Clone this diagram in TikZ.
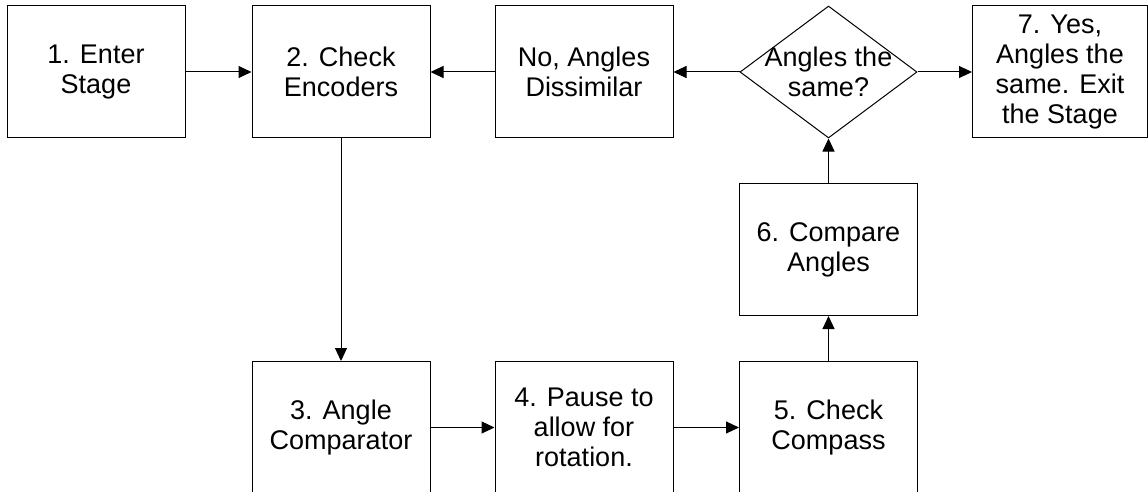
\documentclass[tikz,border=0pt]{standalone}
\usepackage{fontspec}
\setmainfont{Liberation Sans}
\usetikzlibrary{shapes.geometric,arrows.meta}
\begin{document}
\begin{tikzpicture}[x=1pt,y=-1pt,
  every node/.style={font=\fontsize{27}{30}\selectfont, align=center, inner sep=0pt},
  box/.style={draw, line width=1pt, minimum width=178pt, minimum height=132pt},
  dec/.style={draw, diamond, line width=1pt, minimum width=177pt, minimum height=132pt},
  arr/.style={line width=1pt, -{Triangle[length=13pt,width=12pt]}}]
\useasboundingbox (0,0) rectangle (1148,492);
\node[box] (n1) at (96,72) {1. Enter\\Stage};
\node[box] (n2) at (341,72) {2. Check\\Encoders};
\node[box] (no) at (584,72) {No, Angles\\Dissimilar};
\node[dec, label={[align=center]center:Angles the\\same?}] (d) at (828.5,72) {};
\node[box, minimum width=175pt] (n7) at (1060,72) {7. Yes,\\Angles the\\same. Exit\\the Stage};
\node[box] (n6) at (828.5,249.5) {6. Compare\\Angles};
\node[box] (n3) at (341,427.5) {3. Angle\\Comparator};
\node[box] (n4) at (584,427.5) {4. Pause to\\allow for\\rotation.};
\node[box] (n5) at (828.5,427.5) {5. Check\\Compass};
\draw[arr] (n1) -- (n2);
\draw[arr] (no) -- (n2);
\draw[arr] (d) -- (no);
\draw[arr] (d) -- (n7);
\draw[arr] (n2) -- (n3);
\draw[arr] (n3) -- (n4);
\draw[arr] (n4) -- (n5);
\draw[arr] (n5) -- (n6);
\draw[arr] (n6) -- (d);
\end{tikzpicture}
\end{document}
